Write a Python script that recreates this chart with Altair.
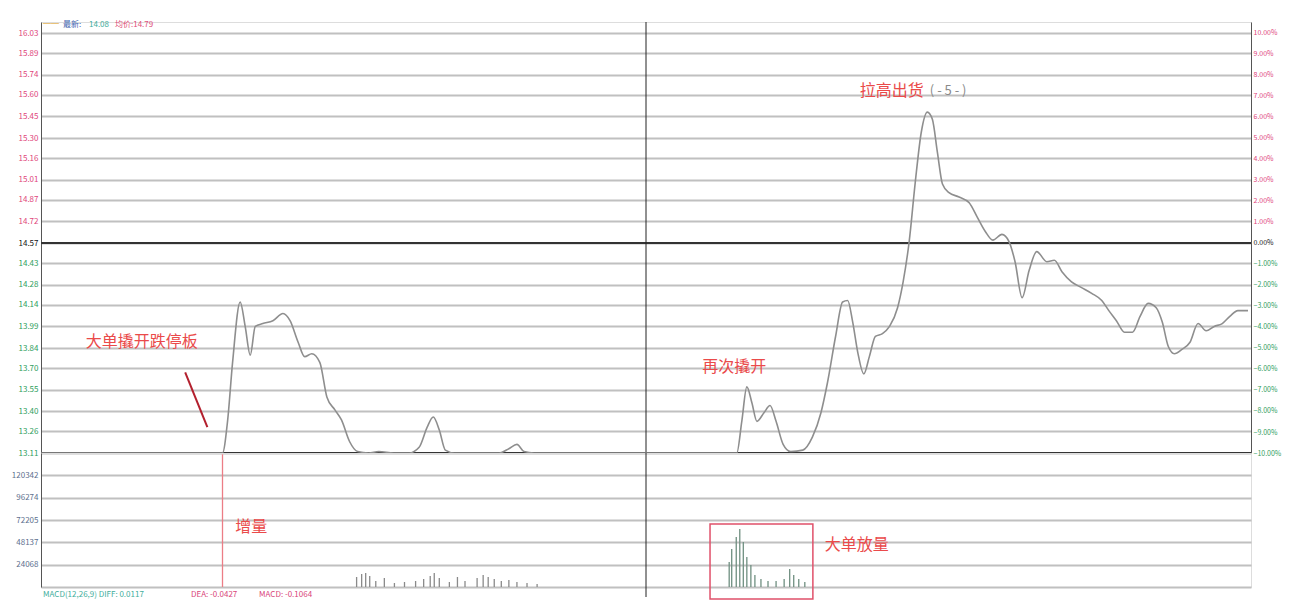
import altair as alt
import pandas as pd

# ---------------- data ----------------
minutes = [0, 36, 37, 38, 39.5, 40.5, 41.5, 42.5, 44, 46, 48, 49.4, 51, 52.3, 53.7, 55.3, 56.7, 58.3,
           59.6, 61.2, 62.8, 65, 67, 70, 73, 75, 76.6, 77.8, 79, 80.2, 82, 90.9, 92.8, 94.4, 95.8,
           97.8, 120,
           138, 139, 140, 141, 142, 143.4, 144.6, 145.8, 147.2, 148.7, 151.1, 153, 154.7, 156, 157.6,
           159, 160, 161, 162, 163.2, 164.3, 165.5, 166.9, 168.3, 169.9, 171, 172.2, 173.4, 174.6,
           175.8, 176.8, 177.8, 178.8, 180.1, 182.1, 184.1, 185.7, 187.3, 188.8, 190.6, 192, 193.2,
           194.6, 196, 197.5, 199.5, 201, 202.5, 204.4, 206.4, 208.4, 210.4, 211.8, 213.3, 214.9,
           216.5, 218, 219.6, 221.2, 222.4, 223.6, 224.8, 226.3, 227.9, 229.5, 231.1, 232.7, 234.3,
           235.8, 237.4, 239.4]
prices = [13.11, 13.11, 13.33, 13.74, 14.16, 13.99, 13.79, 13.99, 14.01, 14.03, 14.08, 14.03, 13.88,
          13.78, 13.80, 13.74, 13.50, 13.41, 13.34, 13.19, 13.12, 13.11, 13.12, 13.11, 13.11, 13.15,
          13.29, 13.36, 13.27, 13.13, 13.11, 13.11, 13.14, 13.17, 13.12, 13.11, 13.11,
          13.11, 13.33, 13.57, 13.46, 13.33, 13.39, 13.44, 13.33, 13.17, 13.12, 13.13, 13.22, 13.39,
          13.60, 13.92, 14.16, 14.17, 14.02, 13.81, 13.66, 13.78, 13.92, 13.94, 13.99, 14.12, 14.30,
          14.58, 14.99, 15.34, 15.48, 15.43, 15.20, 14.98, 14.92, 14.89, 14.85, 14.75, 14.65, 14.59,
          14.63, 14.58, 14.44, 14.19, 14.38, 14.51, 14.44, 14.45, 14.37, 14.30, 14.26, 14.22, 14.17,
          14.10, 14.03, 13.95, 13.95, 14.06, 14.15, 14.12, 14.02, 13.85, 13.80, 13.83, 13.88, 14.01,
          13.96, 13.99, 14.01, 14.06, 14.10, 14.10]

vol_minutes = [36, 62.6, 63.6, 64.4, 65.2, 66.4, 68.1, 70.1, 72.1, 74.3, 75.9, 77.2, 78, 79, 81, 82.6,
               84.1, 86.5, 87.7, 88.7, 89.9, 91.3, 92.8, 94.4, 96.4, 98.4,
               136.5, 137, 137.9, 138.6, 139.3, 140, 140.8, 141.6, 142.8, 144.2, 145.8, 147.4, 148.5,
               149.3, 150.3, 151.5]
volumes = [143000, 10800, 14000, 15100, 11900, 6500, 9700, 4300, 5400, 6500, 8600, 11900, 15100, 9700,
           5400, 10800, 6500, 9700, 12900, 10800, 8600, 6500, 7500, 5400, 4300, 3200,
           26900, 41000, 53900, 62500, 48500, 32300, 23700, 12900, 8600, 6500, 6500, 8600, 19400,
           12900, 8600, 5400]
vol_kind = ["jump"] + ["am"] * 25 + ["pm"] * 16

price_ticks = [13.11, 13.26, 13.40, 13.55, 13.70, 13.84, 13.99, 14.14, 14.28, 14.43, 14.57, 14.72,
               14.87, 15.01, 15.16, 15.30, 15.45, 15.60, 15.74, 15.89, 16.03]
pct_ticks = list(range(-10, 11))
vol_ticks = [0, 24068, 48137, 72205, 96274, 120342]

prev_close = 14.57
limit_down = 13.11
midday = 120

ann_text = ["大单撬开跌停板", "再次撬开", "拉高出货"]
ann_m = [20, 137.5, 162.4]
ann_p = [13.88, 13.71, 15.63]
ann_align = ["center", "center", "left"]

# ---------------- styles ----------------
RED = "#e0457b"
GREEN = "#2f9e5e"
ANN = "#ea4a4a"
FONT = "Noto Sans CJK SC"
W = 1210
HP = 431
HV = 134

price_scale = alt.Scale(domain=[13.11, 16.1065], nice=False, zero=False)
pct_scale = alt.Scale(domain=[-10, 10.5238], nice=False, zero=False)
vol_scale = alt.Scale(domain=[0, 144411], nice=False, zero=False)
xs = alt.X("m:Q", scale=alt.Scale(domain=[0, 240], nice=False, zero=False), axis=None)

price_df = pd.DataFrame({"m": minutes, "p": prices})

left_axis = alt.Axis(
    values=price_ticks, format=".2f", orient="left", title=None, grid=True,
    gridColor="#c0c0c0", gridWidth=1.8, ticks=False, domain=True, domainColor="#555",
    labelFontSize=8, labelPadding=3, minExtent=32, maxExtent=32, labelFont=FONT,
    labelColor={"condition": [{"test": "datum.value > 14.6", "value": RED},
                              {"test": "datum.value < 14.5", "value": GREEN}],
                "value": "#111"},
)
right_axis = alt.Axis(
    values=pct_ticks, orient="right", title=None, grid=False, ticks=False, domain=True,
    domainColor="#555", labelFontSize=7, labelPadding=2, labelFont=FONT,
    labelExpr="format(datum.value, '.2f') + '%'",
    labelColor={"condition": [{"test": "datum.value > 0", "value": RED},
                              {"test": "datum.value < 0", "value": GREEN}],
                "value": "#111"},
)

grid_layer = alt.Chart(pd.DataFrame({"p": price_ticks})).mark_point(opacity=0).encode(
    y=alt.Y("p:Q", scale=price_scale, axis=left_axis)
)
pct_layer = alt.Chart(pd.DataFrame({"pct": pct_ticks})).mark_point(opacity=0).encode(
    y=alt.Y("pct:Q", scale=pct_scale, axis=right_axis)
)
base_rules = alt.Chart(pd.DataFrame({"p": [prev_close, limit_down]})).mark_rule(
    color="#333", strokeWidth=2
).encode(y=alt.Y("p:Q", scale=price_scale, axis=None))
mid_rule = alt.Chart(pd.DataFrame({"m": [midday]})).mark_rule(color="#222", strokeWidth=1).encode(x=xs)

line = alt.Chart(price_df).mark_line(color="#8e8e8e", strokeWidth=1.6, interpolate="monotone").encode(
    x=xs, y=alt.Y("p:Q", scale=price_scale, axis=None)
)

ann_df = pd.DataFrame({"m": ann_m, "p": ann_p, "t": ann_text, "a": ann_align})
ann_c = alt.Chart(ann_df[ann_df.a == "center"]).mark_text(
    color=ANN, fontSize=16, font=FONT, align="center", baseline="middle"
).encode(x=xs, y=alt.Y("p:Q", scale=price_scale, axis=None), text="t:N")
ann_l = alt.Chart(ann_df[ann_df.a == "left"]).mark_text(
    color=ANN, fontSize=16, font=FONT, align="left", baseline="middle"
).encode(x=xs, y=alt.Y("p:Q", scale=price_scale, axis=None), text="t:N")
ann_grey = alt.Chart(pd.DataFrame({"m": [176.3], "p": [15.63], "t": ["( - 5 - )"]})).mark_text(
    color="#8a8a8a", fontSize=13, font=FONT, align="left", baseline="middle"
).encode(x=xs, y=alt.Y("p:Q", scale=price_scale, axis=None), text="t:N")

arrow = alt.Chart(pd.DataFrame({"m": [28.6], "m2": [33.0], "p": [13.67], "p2": [13.29]})).mark_rule(
    color="#b3202e", strokeWidth=2
).encode(x=xs, x2="m2:Q", y=alt.Y("p:Q", scale=price_scale, axis=None), y2="p2:Q")

legend_bits = [
    ("━━", "#e8c27a", 2), ("最新:", "#3f66b0", 22), ("14.08", "#3fae9c", 48),
    ("均价:14.79", "#e0507a", 74),
]
legend_layers = [
    alt.Chart(pd.DataFrame({"t": [t]})).mark_text(
        color=c, fontSize=8, font=FONT, align="left", baseline="middle"
    ).encode(text="t:N", x=alt.value(px), y=alt.value(3))
    for t, c, px in legend_bits
]

price_chart = alt.layer(
    grid_layer, base_rules, mid_rule, line, arrow, ann_c, ann_l, ann_grey, *legend_layers, pct_layer
).resolve_scale(y="independent").properties(width=W, height=HP)

# ---------------- volume panel ----------------
vol_df = pd.DataFrame({"m": vol_minutes, "v": volumes, "k": vol_kind})
vol_axis = alt.Axis(
    values=vol_ticks, format="d", orient="left", title=None, grid=True, gridColor="#c0c0c0",
    gridWidth=1.8, ticks=False, domain=True, domainColor="#555", labelFontSize=8, labelPadding=3,
    minExtent=32, maxExtent=32, labelColor="#5d6f8e", labelFont=FONT,
    labelExpr="datum.value == 0 ? '' : datum.label",
)
vol_grid = alt.Chart(pd.DataFrame({"v": vol_ticks})).mark_point(opacity=0).encode(
    y=alt.Y("v:Q", scale=vol_scale, axis=vol_axis)
)
bars = alt.Chart(vol_df).mark_rule(strokeWidth=1.3).encode(
    x=xs, y=alt.Y("v:Q", scale=vol_scale, axis=None), y2=alt.datum(0),
    color=alt.Color("k:N", scale=alt.Scale(domain=["jump", "am", "pm"],
                                           range=["#ec7d86", "#8a8a8a", "#6f8f80"]), legend=None),
)
mid_rule2 = alt.Chart(pd.DataFrame({"m": [midday]})).mark_rule(color="#222", strokeWidth=1).encode(
    x=xs, y=alt.value(0), y2=alt.value(HV + 10)
)
box = alt.Chart(pd.DataFrame({"m": [132.7], "m2": [153.1], "v": [67900], "v2": [-13000]})).mark_rect(
    fillOpacity=0, stroke="#e0506a", strokeWidth=1.5
).encode(x=xs, x2="m2:Q", y=alt.Y("v:Q", scale=vol_scale, axis=None), y2="v2:Q")
vol_ann = alt.Chart(pd.DataFrame({"m": [41.7, 161.8], "v": [64660, 45260], "t": ["增量", "大单放量"]})).mark_text(
    color=ANN, fontSize=16, font=FONT, align="center", baseline="middle"
).encode(x=xs, y=alt.Y("v:Q", scale=vol_scale, axis=None), text="t:N")

macd_bits = [
    ("MACD(12,26,9) DIFF: 0.0117", "#3fae9c", 2),
    ("DEA: -0.0427", "#d9457a", 150),
    ("MACD: -0.1064", "#d9457a", 218),
]
macd_layers = [
    alt.Chart(pd.DataFrame({"t": [t]})).mark_text(
        color=c, fontSize=8, font=FONT, align="left", baseline="middle"
    ).encode(text="t:N", x=alt.value(px), y=alt.value(HV + 8))
    for t, c, px in macd_bits
]

vol_chart = alt.layer(
    vol_grid, bars, mid_rule2, box, vol_ann, *macd_layers
).resolve_scale(y="independent").properties(width=W, height=HV)

chart = alt.vconcat(price_chart, vol_chart, spacing=0, bounds="flush").properties(
    padding={"left": 0, "top": 12, "right": 0, "bottom": 0}
).configure_view(stroke=None).configure(background="white")

chart.save("out.html", embed_options={"renderer": "svg", "actions": False})
